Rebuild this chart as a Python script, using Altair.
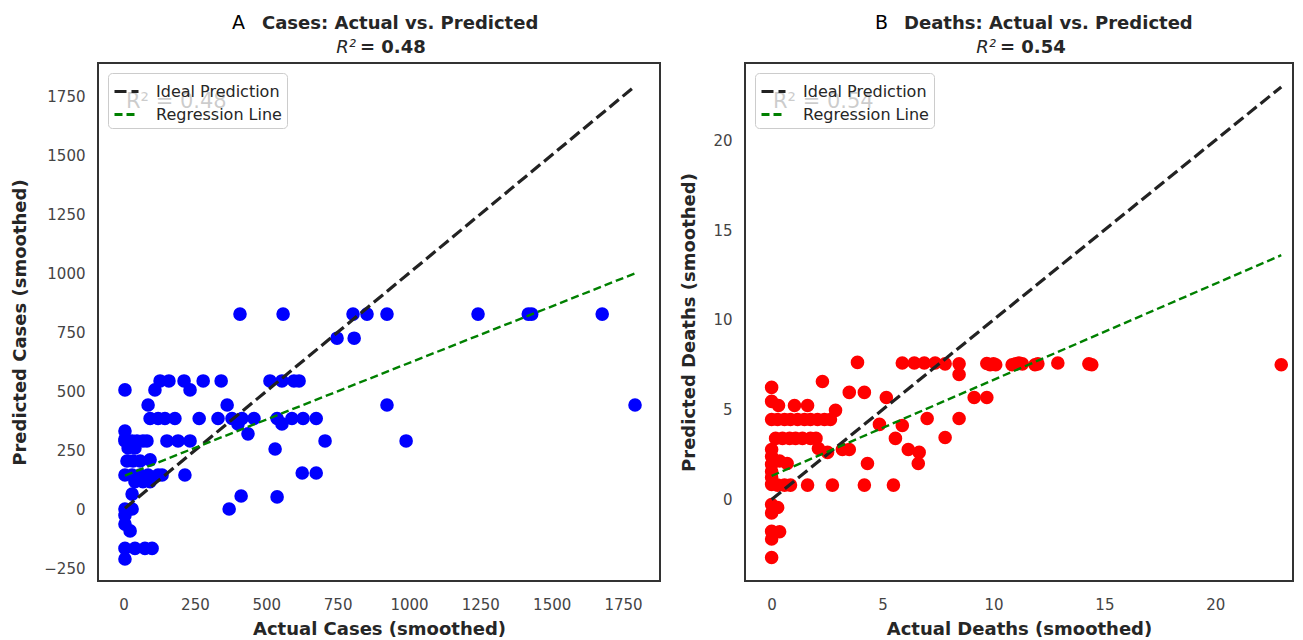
import altair as alt
import pandas as pd

# ---------------- data ----------------
cases_actual = [408, 559, 804, 853, 923, 1242, 1418, 1430, 1677,
                748, 808,
                86, 363, 923, 1792,
                990,
                128, 159, 212, 279, 342, 513, 555, 597, 615,
                5, 110, 233,
                93, 121, 145, 180, 265, 331, 380, 415, 457, 538, 590, 629, 675,
                401, 555, 436,
                5, 5,
                5, 30, 47, 68, 82, 152, 191, 233, 706,
                16, 40, 531,
                12, 33, 58, 93,
                5, 30, 58, 86, 121, 135, 215, 626, 675,
                40, 68, 93,
                30, 412, 538,
                370, 5, 30,
                5, 5, 23,
                5, 40, 75, 100,
                5]
cases_pred = [827, 827, 827, 827, 827, 827, 827, 827, 827,
              725, 725,
              442, 442, 442, 442,
              290,
              544, 544, 544, 544, 544, 544, 544, 544, 544,
              506, 506, 506,
              385, 385, 385, 385, 385, 385, 385, 385, 385, 385, 385, 385, 385,
              362, 362, 320,
              332, 298,
              290, 290, 290, 290, 290, 290, 290, 290, 290,
              260, 260, 256,
              205, 205, 205, 210,
              146, 146, 146, 146, 146, 146, 146, 154, 154,
              117, 117, 117,
              65, 57, 53,
              2, 2, 2,
              -25, -62, -91,
              -165, -165, -165, -165,
              -210]

deaths_actual = [3.87,
                 5.89, 6.43, 6.88, 7.37, 7.82, 8.45, 8.45,
                 9.7, 9.85, 10.0, 10.1, 10.84, 11.0, 11.15, 11.3, 11.87, 12.0, 12.9, 14.3, 14.43, 22.97,
                 0, 2.29, 3.5, 4.18, 5.17,
                 0, 0.31, 1.03, 1.62, 2.88,
                 0, 0.27, 0.58, 0.85, 1.17, 1.48, 1.75, 2.07, 2.38, 2.65,
                 4.86, 5.89, 7.01, 8.45, 9.13, 9.7,
                 0.18, 0.49, 0.81, 1.08, 1.39, 1.75, 2.0,
                 2.11, 2.52, 3.19, 3.5, 5.58, 7.82, 6.16, 6.65, 6.61, 4.32,
                 0, 0, 0, 0, 0, 0,
                 0.36, 0.7,
                 0.27, 0.58, 0.85, 1.62, 2.74, 4.18, 5.49,
                 0, 0.27, 0,
                 0, 0.36, 0,
                 0]
deaths_pred = [7.63,
               7.6, 7.6, 7.6, 7.6, 7.55, 7.55, 6.96,
               7.57, 7.5, 7.55, 7.5, 7.5, 7.55, 7.6, 7.55, 7.5, 7.55, 7.6, 7.55, 7.5, 7.5,
               6.24, 6.57, 5.96, 5.96, 5.68,
               5.46, 5.23, 5.23, 5.23, 4.96,
               4.45, 4.45, 4.45, 4.45, 4.45, 4.45, 4.45, 4.45, 4.45, 4.45,
               4.18, 4.12, 4.51, 4.51, 5.68, 5.68,
               3.4, 3.4, 3.4, 3.4, 3.4, 3.4, 3.4,
               2.84, 2.62, 2.78, 2.78, 3.4, 3.45, 2.78, 2.62, 2.0, 2.0,
               2.78, 2.39, 1.95, 1.56, 1.22, 0.84,
               2.14, 2.0,
               0.8, 0.8, 0.8, 0.8, 0.8, 0.8, 0.8,
               -0.28, -0.45, -0.75,
               -1.78, -1.8, -2.2,
               -3.23]

line_series = ["Ideal Prediction", "Regression Line"]
# regression line: intercept, slope
cases_reg = [141, 0.479]
deaths_reg = [1.31, 0.535]

panel_letters = ["A", "B"]
panel_titles = ["Cases: Actual vs. Predicted", "Deaths: Actual vs. Predicted"]
r2_values = ["0.48", "0.54"]
x_titles = ["Actual Cases (smoothed)", "Actual Deaths (smoothed)"]
y_titles = ["Predicted Cases (smoothed)", "Predicted Deaths (smoothed)"]
cases_x_ticks = [0, 250, 500, 750, 1000, 1250, 1500, 1750]
cases_y_ticks = [-250, 0, 250, 500, 750, 1000, 1250, 1500, 1750]
deaths_x_ticks = [0, 5, 10, 15, 20]
deaths_y_ticks = [0, 5, 10, 15, 20]

FONT = "DejaVu Sans"
H = 518


def panel(actual, pred, reg, color, x_dom, y_dom, x_ticks, y_ticks, idx, W,
          letter_x, title_x):
    pts = pd.DataFrame({"actual": actual, "pred": pred})
    lo, hi = min(actual), max(actual)
    lines = pd.DataFrame({
        "series": [line_series[0]] * 2 + [line_series[1]] * 2,
        "x": [lo, hi, lo, hi],
        "y": [lo, hi, reg[0] + reg[1] * lo, reg[0] + reg[1] * hi],
    })
    xs = alt.Scale(domain=x_dom, nice=False, zero=False)
    ys = alt.Scale(domain=y_dom, nice=False, zero=False)
    axis_common = dict(grid=False, ticks=False, tickSize=0, domain=False, format="d",
                       labelFont=FONT, labelFontSize=15, labelColor="#444444",
                       titleFont=FONT, titleFontSize=18, titleFontWeight="bold",
                       titleColor="#262626", labelOverlap=False, labelFlush=False)
    xax = alt.Axis(values=x_ticks, title=x_titles[idx], labelPadding=16,
                   titlePadding=8, **axis_common)
    yax = alt.Axis(values=y_ticks, title=y_titles[idx], labelPadding=13,
                   titlePadding=14, **axis_common)

    points = alt.Chart(pts).mark_circle(size=185, opacity=1, color=color).encode(
        x=alt.X("actual:Q", scale=xs, axis=xax),
        y=alt.Y("pred:Q", scale=ys, axis=yax),
    )

    leg = alt.Legend(title=None, orient="top-left", offset=10, padding=5,
                     fillColor="rgba(255,255,255,0.8)", strokeColor="#cccccc",
                     cornerRadius=4, labelFont=FONT, labelFontSize=16,
                     labelColor="#262626", symbolType="stroke", symbolSize=576,
                     symbolStrokeWidth=3, rowPadding=1, labelOffset=16, zindex=1)
    ln = alt.Chart(lines).mark_line(clip=True).encode(
        x=alt.X("x:Q", scale=xs),
        y=alt.Y("y:Q", scale=ys),
        detail="series:N",
        color=alt.Color("series:N",
                        scale=alt.Scale(domain=line_series, range=["#222222", "#008000"]),
                        legend=leg),
        strokeDash=alt.StrokeDash("series:N",
                                  scale=alt.Scale(domain=line_series, range=[[12, 5], [8, 4]]),
                                  legend=leg),
        strokeWidth=alt.condition(alt.datum.series == line_series[0],
                                  alt.value(3.2), alt.value(2.4)),
    )

    faded = alt.Chart(pd.DataFrame({"t": ["R² = " + r2_values[idx]]})).mark_text(
        font=FONT, fontSize=21, color="#000000", align="left", baseline="top"
    ).encode(text="t:N", x=alt.value(28), y=alt.value(28))

    letter = alt.Chart(pd.DataFrame({"t": [panel_letters[idx]]})).mark_text(
        font=FONT, fontSize=19, color="#000000", align="left", baseline="alphabetic"
    ).encode(text="t:N", x=alt.value(letter_x), y=alt.value(-34))
    title = alt.Chart(pd.DataFrame({"t": [panel_titles[idx]]})).mark_text(
        font=FONT, fontSize=18, fontWeight="bold", color="#262626", align="left",
        baseline="alphabetic"
    ).encode(text="t:N", x=alt.value(title_x), y=alt.value(-34))
    r_part = alt.Chart(pd.DataFrame({"t": ["R²"]})).mark_text(
        font=FONT, fontSize=18, fontStyle="italic", color="#262626", align="right",
        baseline="alphabetic"
    ).encode(text="t:N", x=alt.value(W / 2 - 23), y=alt.value(-10))
    v_part = alt.Chart(pd.DataFrame({"t": ["= " + r2_values[idx]]})).mark_text(
        font=FONT, fontSize=18, fontWeight="bold", color="#262626", align="left",
        baseline="alphabetic"
    ).encode(text="t:N", x=alt.value(W / 2 - 19), y=alt.value(-10))

    return alt.layer(faded, points, ln, letter, title, r_part, v_part).properties(
        width=W, height=H
    ).resolve_scale(color="shared")


left = panel(cases_actual, cases_pred, cases_reg, "#0000ff",
             [-89.5, 1879.5], [-303, 1890], cases_x_ticks, cases_y_ticks, 0, 562,
             134, 164)
right = panel(deaths_actual, deaths_pred, deaths_reg, "#ff0000",
              [-1.2, 23.5], [-4.54, 24.3], deaths_x_ticks, deaths_y_ticks, 1, 548,
              130, 159)

chart = alt.hconcat(left, right, spacing=18).resolve_scale(
    color="independent", strokeDash="independent", x="independent", y="independent"
).resolve_legend(color="independent", strokeDash="independent").configure_view(
    stroke="#333333", strokeWidth=2
).properties(
    padding={"left": 10, "top": 13, "right": 5, "bottom": 0},
    background="white",
)

chart.save("out.html", embed_options={"renderer": "svg", "actions": False})
